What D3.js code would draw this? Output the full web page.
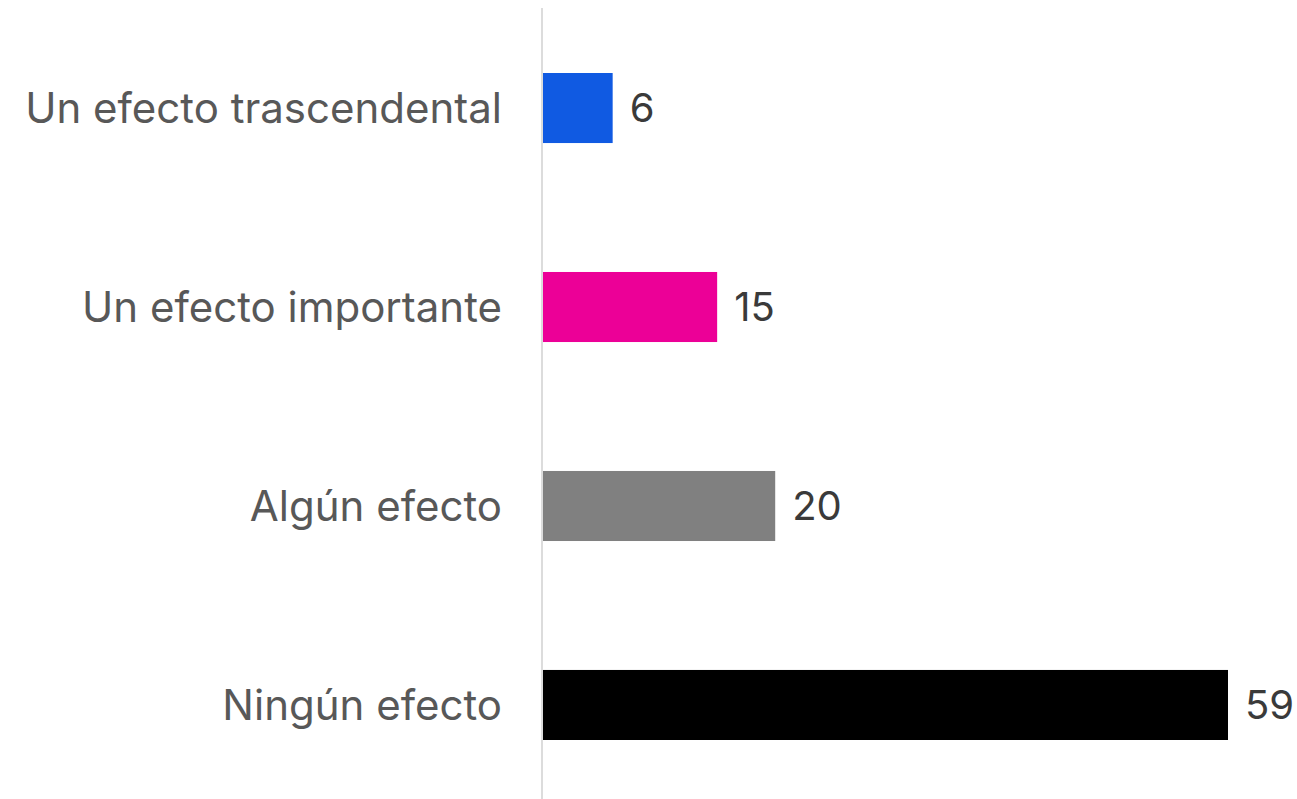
<!DOCTYPE html>
<html>
<head>
<meta charset="utf-8">
<script src="https://cdn.jsdelivr.net/npm/d3@7"></script>
<style>
  html, body { margin: 0; padding: 0; background: #fff; }
  svg { display: block; }
  text { font-family: "Inter", "Noto Sans", sans-serif; }
</style>
</head>
<body>
<svg id="chart" width="1297" height="799"></svg>
<script>
// Responses per category (percent)
const categories = ["Un efecto trascendental", "Un efecto importante", "Algún efecto", "Ningún efecto"];
const values = [6, 15, 20, 59];
const colors = ["#105AE2", "#EC0097", "#808080", "#000000"];

const width = 1297, height = 799;
const margin = { top: 8, right: 69, bottom: 0, left: 543 };

const svg = d3.select("#chart");

const x = d3.scaleLinear()
  .domain([0, d3.max(values)])
  .range([margin.left, width - margin.right]);

const y = d3.scaleBand()
  .domain(categories)
  .range([10, 803])
  .paddingInner(0.648)
  .paddingOuter(0.3166);

// Baseline
svg.append("line")
  .attr("x1", margin.left - 1).attr("x2", margin.left - 1)
  .attr("y1", margin.top).attr("y2", height)
  .attr("stroke", "#dcdcdc")
  .attr("stroke-width", 2);

// Bars
svg.selectAll("rect.bar")
  .data(categories)
  .join("rect")
  .attr("class", "bar")
  .attr("x", x(0))
  .attr("y", d => y(d))
  .attr("width", (d, i) => x(values[i]) - x(0))
  .attr("height", y.bandwidth())
  .attr("fill", (d, i) => colors[i]);

// Category labels
svg.selectAll("text.cat")
  .data(categories)
  .join("text")
  .attr("class", "cat")
  .attr("x", margin.left - 41)
  .attr("y", d => y(d) + y.bandwidth() / 2)
  .attr("dy", "0.35em")
  .attr("text-anchor", "end")
  .attr("fill", "#585858")
  .attr("font-size", 42)
  .text(d => d);

// Value labels
svg.selectAll("text.val")
  .data(categories)
  .join("text")
  .attr("class", "val")
  .attr("x", (d, i) => x(values[i]) + 17)
  .attr("y", d => y(d) + y.bandwidth() / 2)
  .attr("dy", "0.35em")
  .attr("fill", "#3a3a3a")
  .attr("font-size", 40)
  .text((d, i) => values[i]);
</script>
</body>
</html>
